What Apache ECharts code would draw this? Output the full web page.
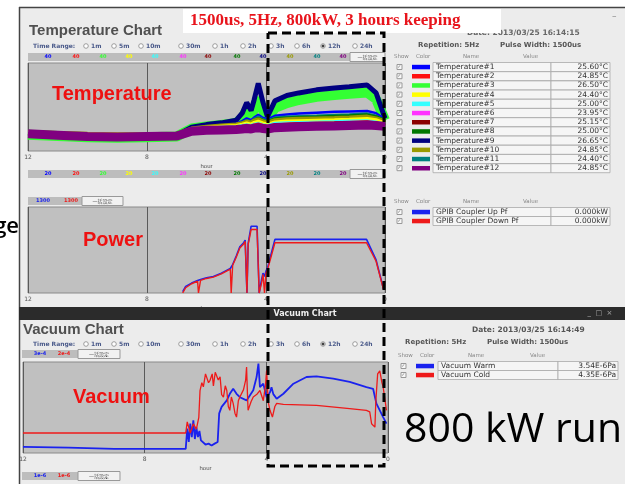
<!DOCTYPE html>
<html><head><meta charset="utf-8">
<script src="https://cdn.jsdelivr.net/npm/echarts/dist/echarts.min.js"></script>
<style>html,body{margin:0;padding:0;background:#fff}#c{width:625px;height:484px}</style>
</head><body><div id="c"></div>
<script>
// ---------------- DATA ----------------
const tHours = [12, 11, 10, 9, 8, 7, 6.5, 6, 5.5, 5, 4.8, 4.65, 4.5, 4.4, 4.26, 4.1, 3.95, 3.7, 3.3, 2.9, 2.3, 1.7, 1.2, 0.6, 0.3, 0];
const temp1  = [24.1, 23.8, 23.5, 23.4, 23.5, 23.7, 25.0, 25.5, 25.8, 26.2, 26.8, 27.4, 27.0, 27.6, 28.2, 27.5, 27.2, 28.0, 28.3, 28.5, 28.7, 28.9, 29.0, 29.1, 28.6, 27.2];
const temp2  = [24.0, 23.8, 23.5, 23.4, 23.5, 23.6, 24.7, 25.1, 25.3, 25.4, 25.7, 25.9, 25.7, 26.0, 26.2, 25.9, 25.7, 26.1, 26.2, 26.3, 26.4, 26.5, 26.6, 26.7, 26.5, 26.0];
const temp3  = [23.7, 23.4, 23.1, 23.0, 23.1, 23.3, 25.1, 25.6, 25.9, 26.4, 27.5, 29.3, 28.0, 29.6, 32.0, 29.2, 27.3, 29.8, 30.9, 31.6, 32.3, 32.7, 33.0, 33.3, 31.8, 27.0];
const temp4  = [24.3, 24.1, 23.9, 23.8, 23.8, 23.9, 25.0, 25.4, 25.6, 25.8, 26.1, 26.4, 26.1, 26.5, 26.8, 26.4, 26.1, 26.6, 26.8, 26.9, 27.0, 27.1, 27.2, 27.4, 27.1, 26.4];
const temp5  = [24.1, 23.8, 23.5, 23.4, 23.5, 23.6, 24.8, 25.2, 25.4, 25.5, 25.8, 26.0, 25.8, 26.1, 26.3, 26.0, 25.8, 26.3, 26.4, 26.5, 26.6, 26.7, 26.8, 26.9, 26.6, 26.1];
const temp6  = [23.8, 23.5, 23.2, 23.1, 23.2, 23.3, 24.4, 24.8, 25.0, 25.1, 25.2, 25.4, 25.2, 25.5, 25.7, 25.4, 25.3, 25.7, 25.8, 25.9, 26.0, 26.1, 26.2, 26.3, 26.1, 25.7];
const temp7  = [24.0, 23.7, 23.4, 23.3, 23.4, 23.5, 24.6, 25.0, 25.2, 25.3, 25.5, 25.7, 25.5, 25.8, 26.0, 25.7, 25.5, 26.0, 26.1, 26.2, 26.3, 26.4, 26.5, 26.6, 26.4, 25.9];
const temp8  = [24.0, 23.8, 23.6, 23.5, 23.5, 23.6, 24.9, 25.3, 25.6, 25.8, 26.2, 26.7, 26.4, 26.9, 27.3, 26.8, 26.5, 27.2, 27.4, 27.5, 27.6, 27.8, 27.9, 28.1, 27.7, 26.8];
const temp9  = [24.0, 23.7, 23.4, 23.3, 23.4, 23.6, 25.4, 26.0, 26.4, 27.0, 28.6, 31.0, 29.2, 31.6, 35.4, 31.0, 27.8, 31.4, 32.6, 33.2, 33.9, 34.3, 34.6, 35.0, 33.2, 27.4];
const temp10 = [24.2, 24.0, 23.8, 23.7, 23.7, 23.8, 25.0, 25.4, 25.7, 25.9, 26.2, 26.6, 26.3, 26.8, 27.1, 26.6, 26.3, 26.9, 27.1, 27.2, 27.3, 27.4, 27.5, 27.7, 27.3, 26.6];
const temp11 = [24.0, 23.8, 23.5, 23.4, 23.5, 23.6, 24.9, 25.4, 25.7, 26.0, 26.5, 27.0, 26.7, 27.3, 27.8, 27.2, 26.9, 27.6, 27.8, 27.9, 28.0, 28.2, 28.3, 28.5, 28.0, 27.0];
const temp12 = [23.9, 23.6, 23.3, 23.2, 23.3, 23.4, 24.5, 24.7, 24.8, 24.9, 25.0, 25.1, 25.0, 25.2, 25.3, 25.1, 25.0, 25.3, 25.4, 25.5, 25.6, 25.7, 25.8, 25.9, 25.8, 25.6];
const tempNames  = ['Temperature#1','Temperature#2','Temperature#3','Temperature#4','Temperature#5','Temperature#6','Temperature#7','Temperature#8','Temperature#9','Temperature#10','Temperature#11','Temperature#12'];
const tempValues = ['25.60°C','24.85°C','26.50°C','24.40°C','25.00°C','23.95°C','25.15°C','25.00°C','26.65°C','24.85°C','24.40°C','24.85°C'];

const pHours    = [6.8, 6.7, 6.5, 6.3, 6.27, 6.25, 6.2, 6.0, 5.77, 5.5, 5.2, 5.17, 5.15, 5.12, 5.0, 4.88, 4.75, 4.7, 4.66, 4.64, 4.6, 4.5, 4.48, 4.3, 4.26, 4.23, 4.21, 4.15, 4.1, 4.05, 4.0, 3.95, 3.9, 3.7, 3.6, 2.5, 1.5, 0.62, 0.3, 0.05];
const powerUp   = [20, 100, 150, 190, 195, 200, 205, 230, 250, 300, 370, 380, 400, 430, 560, 700, 760, 800, 810, 0, 750, 1010, 1010, 1010, 1010, 0, 0, 200, 300, 250, 330, 380, 400, 810, 810, 810, 810, 810, 500, 60];
const powerDown = [0, 80, 140, 180, 0, 0, 190, 220, 240, 290, 360, 0, 0, 420, 540, 680, 740, 780, 790, 0, 730, 960, 960, 960, 960, 0, 0, 150, 280, 0, 300, 350, 380, 760, 760, 760, 760, 760, 480, 50];
const powerNames  = ['GPIB Coupler Up Pf', 'GPIB Coupler Down Pf'];
const powerValues = ['0.000kW', '0.000kW'];

const vacWarm = [[12,1.46e-6],[10.5,1.4e-6],[9,1.3e-6],[7.5,1.3e-6],[6.65,1.3e-6],[6.6,4.6e-6],[6.55,2.0e-6],[6.5,6.3e-6],[6.45,2.7e-6],[6.4,7.8e-6],[6.35,2.4e-6],[6.3,5e-6],[6.25,2.7e-6],[6.2,4e-6],[6.15,2.2e-6],[6.1,2.0e-6],[6.0,1.7e-6],[5.9,1.8e-6],[5.8,1.6e-6],[5.7,1.8e-6],[5.6,2.0e-6],[5.55,1.2e-5],[5.47,1.8e-5],[5.3,2.7e-5],[5.2,4.1e-5],[5.09,5.6e-5],[4.98,4.1e-5],[4.87,3.3e-5],[4.65,2.7e-5],[4.43,5.1e-5],[4.32,1.17e-4],[4.26,2.7e-4],[4.21,6.2e-5],[4.10,7.7e-5],[3.99,3.3e-5],[3.88,4.5e-5],[3.83,6.2e-5],[3.77,4e-5],[3.66,3.0e-5],[3.44,4.1e-5],[3.11,7.7e-5],[2.68,1.17e-4],[2.35,1.22e-4],[1.80,1.06e-4],[1.26,8.6e-5],[0.71,6.2e-5],[0.49,5.6e-5],[0.38,2.2e-5],[0.16,9.5e-6],[0.05,6.3e-6]];
const vacCold = [[12,3.2e-6],[9,3.2e-6],[6.65,3.2e-6],[6.6,6.1e-6],[6.5,3.2e-6],[6.4,5.5e-6],[6.3,4e-6],[6.22,8e-6],[6.18,3.8e-5],[6.12,6e-5],[6.07,4.7e-5],[6.0,1.0e-4],[5.96,1.12e-4],[5.9,6e-5],[5.85,6.9e-5],[5.78,1.0e-4],[5.74,5e-5],[5.68,1.1e-4],[5.63,1.23e-4],[5.58,7e-5],[5.52,8.4e-5],[5.47,3e-5],[5.41,2.6e-5],[5.35,5e-5],[5.30,3.8e-5],[5.25,1.5e-5],[5.20,1.2e-5],[5.15,2.6e-5],[5.09,1.8e-5],[5.03,1.0e-5],[4.98,8.1e-6],[4.92,2.1e-5],[4.87,2.6e-5],[4.75,4e-5],[4.68,7e-5],[4.65,1.5e-4],[4.62,3e-5],[4.60,1.2e-5],[4.5,2e-5],[4.43,2.6e-5],[4.32,3e-5],[4.21,3.8e-5],[4.10,2.1e-5],[4.03,5e-5],[3.99,1.23e-4],[3.94,2e-5],[3.88,1.2e-5],[3.8,8.1e-6],[3.72,1.5e-5],[3.66,1.8e-5],[3.44,1.7e-5],[2.35,1.6e-5],[1.26,1.33e-5],[0.71,1.2e-5],[0.6,1.1e-5],[0.54,5.5e-6],[0.43,4.5e-6],[0.40,2.1e-5],[0.34,1.0e-4],[0.27,1.2e-4],[0.2,6e-5],[0.16,4.7e-5],[0.05,1.2e-5]];
const vacNames  = ['Vacuum Warm', 'Vacuum Cold'];
const vacValues = ['3.54E-6Pa', '4.35E-6Pa'];

const timeRanges = ['1m','5m','10m','30m','1h','2h','3h','6h','12h','24h'];
const tempTopLabels = ['40','40','40','40','40','40','40','40','40','40','40','40'];
const tempBotLabels = ['20','20','20','20','20','20','20','20','20','20','20','20'];

// ---------------- STYLE ----------------
const tempColors = ['#0000ff','#ff1010','#33ff33','#ffff00','#33ffff','#ff33ff','#8b0000','#007700','#000080','#9a9a00','#008080','#800080'];
const tempOrder  = [2, 8, 0, 10, 7, 9, 3, 4, 1, 6, 5, 11];
const tempWidth  = [2.5, 2.5, 10, 3, 3, 2.5, 2.5, 4, 5, 5, 2.5, 9];
const tempData = [temp1,temp2,temp3,temp4,temp5,temp6,temp7,temp8,temp9,temp10,temp11,temp12];
const BLUE = '#1a22ee', RED = '#ee1a1a';

const G = [];
function rect(x,y,w,h,fill,stroke,z,lw){G.push({type:'rect',z:z==null?-5:z,silent:true,shape:{x:x,y:y,width:w,height:h},style:{fill:fill,stroke:stroke||null,lineWidth:lw||1}});}
function txt(t,x,y,size,color,o){o=o||{};G.push({type:'text',z:o.z==null?50:o.z,silent:true,style:{text:t,x:x,y:y,fill:color,fontSize:size,fontFamily:o.family||'DejaVu Sans',fontWeight:o.weight||'normal',align:o.align||'left',verticalAlign:o.va||'middle'}});}
function ln(x1,y1,x2,y2,stroke,lw,dash,z){G.push({type:'line',z:z==null?-4:z,silent:true,shape:{x1:x1,y1:y1,x2:x2,y2:y2},style:{stroke:stroke,lineWidth:lw||1,lineDash:dash||null}});}
function circ(cx,cy,r,fill,stroke,z){G.push({type:'circle',z:z==null?40:z,silent:true,shape:{cx:cx,cy:cy,r:r},style:{fill:fill,stroke:stroke,lineWidth:0.8}});}

// windows
rect(19,7,606,300,'#ececec',null,-10);
ln(19,7.5,625,7.5,'#444',1.5,null,-3);
ln(19.5,7,19.5,484,'#444',1.5,null,-3);
txt('–',612,17,9,'#888');
rect(19,307,606,13,'#2b2b2b',null,60);
txt('Vacuum Chart',305,314,8,'#eeeeee',{weight:'bold',align:'center',z:61});
txt('_  □  ×',600,313,7,'#aaaaaa',{align:'center',z:61});
rect(19,320,606,164,'#ececec',null,-10);

// titles
txt('Temperature Chart',29,31,15,'#505050',{family:'Liberation Sans',weight:'bold'});
txt('Vacuum Chart',23,330,15,'#505050',{family:'Liberation Sans',weight:'bold'});
txt('Date: 2013/03/25 16:14:15',467,33,7.5,'#666',{weight:'bold'});
rect(183,9,318,24,'#ffffff',null,55);
txt('1500us, 5Hz, 800kW, 3 hours keeping',190,21,17,'#e8141c',{family:'Liberation Serif',weight:'bold',z:56});

// time range rows
const trX = [86,114,141,181,215,243,271,297,323,355];
function timeRow(y){
  txt('Time Range:',33,y,6,'#4a5a8a',{weight:'bold'});
  timeRanges.forEach(function(t,i){
    circ(trX[i],y,2.3,'#ffffff','#888');
    if(t==='12h') circ(trX[i],y,1.1,'#333','#333',41);
    txt(t,trX[i]+5,y,6,'#4a5a8a',{weight:'bold'});
  });
}
timeRow(46); timeRow(344);

// label strips
function strip(x,y,w,labels,colors,lx,btnX){
  rect(x,y,w,8,'#bdbdbd',null,-4);
  labels.forEach(function(l,i){txt(l,lx[i],y+4,5,colors[i],{weight:'bold',align:'center'});});
  rect(btnX,y-0.5,x+w-btnX,9,'#f2f2f2','#999',-3);
  txt('一括設定',(btnX+x+w)/2,y+4,5,'#555',{family:'Noto Sans CJK JP',align:'center'});
}
const stripX = [48,76,103,129,155,183,208,237,263,290,317,343];
strip(28,53,357,tempTopLabels,tempColors,stripX,350);
strip(28,170,357,tempBotLabels,tempColors,stripX,350);
strip(28,197,95,['1300','1300'],[BLUE,RED],[43,71],82);
strip(22,350,98,['3e-4','2e-4'],[BLUE,RED],[40,64],78);
strip(22,472,98,['1e-6','1e-6'],[BLUE,RED],[40,64],78);

// legend tables
function table(hy,x0,rows,names,values,colors,cellL,cellM,cellR){
  txt('Show',x0,hy,5.5,'#888'); txt('Color',x0+22,hy,5.5,'#888');
  txt('Name',cellL+30,hy,5.5,'#888'); txt('Value',cellM-28,hy,5.5,'#888');
  rows.forEach(function(yc,i){
    rect(x0+3,yc-2.5,5,5,'#f8f8f8','#999',-3);
    txt('✓',x0+5.5,yc,4.5,'#555',{align:'center'});
    rect(x0+18,yc-2.2,18,4.5,colors[i],null,-3);
    rect(cellL,yc-4.5,cellM-cellL,9,'#f5f5f5','#aaa',-3,0.8);
    rect(cellM,yc-4.5,cellR-cellM,9,'#f5f5f5','#aaa',-3,0.8);
    txt(names[i],cellL+3,yc,7.5,'#333');
    txt(values[i],cellR-2,yc,7.5,'#333',{align:'right'});
  });
}
txt('Repetition: 5Hz',418,45,7,'#555',{weight:'bold'});
txt('Pulse Width: 1500us',500,45,7,'#555',{weight:'bold'});
const tRows = tempNames.map(function(_,i){return 67+i*9.2;});
table(57,394,tRows,tempNames,tempValues,tempColors,433,551,610);
table(202,394,[212,221],powerNames,powerValues,[BLUE,RED],433,551,610);
txt('Date: 2013/03/25 16:14:49',472,330,7.5,'#555',{weight:'bold'});
txt('Repetition: 5Hz',405,342,7,'#555',{weight:'bold'});
txt('Pulse Width: 1500us',487,342,7,'#555',{weight:'bold'});
table(356,398,[366,375],vacNames,vacValues,[BLUE,RED],438,558,618);

// overlay annotations
txt('Temperature',52,94,20,'#ee1111',{family:'Liberation Sans',weight:'bold',z:70});
txt('Power',83,240,20,'#ee1111',{family:'Liberation Sans',weight:'bold',z:70});
txt('Vacuum',73,397,20,'#ee1111',{family:'Liberation Sans',weight:'bold',z:70});
txt('800 kW run',404,430,41,'#000',{family:'Open Sans',z:70});
txt('ge',19,227,22,'#000',{family:'Open Sans',weight:'600',align:'right',z:70});
G.push({type:'polyline',z:80,silent:true,shape:{points:[[268,33],[384,33],[384,466],[268,466],[268,33]]},style:{stroke:'#000',lineWidth:3,lineDash:[9,5],fill:null}});

// ---------------- CHART ----------------
function xAx(gi,showName){
  return {type:'value',gridIndex:gi,min:0,max:12,interval:4,inverse:true,
    axisLine:{show:false},axisTick:{show:false},
    axisLabel:{fontSize:6,color:'#555',margin:3,showMinLabel:true,showMaxLabel:true,fontFamily:'DejaVu Sans'},
    splitLine:{show:true,lineStyle:{color:'#5a5a5a',width:1}},
    name:showName?'hour':'',nameLocation:'middle',nameGap:12,nameTextStyle:{fontSize:6,color:'#555'}};
}
function yAx(gi,extra){
  return Object.assign({gridIndex:gi,axisLine:{show:false},axisTick:{show:false},axisLabel:{show:false},splitLine:{show:false}},extra);
}
const series = [];
tempOrder.forEach(function(i){
  series.push({type:'line',name:tempNames[i],xAxisIndex:0,yAxisIndex:0,showSymbol:false,animation:false,
    data:tHours.map(function(h,k){return [h,tempData[i][k]];}),
    lineStyle:{color:tempColors[i],width:tempWidth[i]},itemStyle:{color:tempColors[i]}});
});
series.push({type:'line',name:powerNames[0],xAxisIndex:1,yAxisIndex:1,showSymbol:false,animation:false,
  data:pHours.map(function(h,k){return [h,powerUp[k]];}),lineStyle:{color:BLUE,width:1.6}});
series.push({type:'line',name:powerNames[1],xAxisIndex:1,yAxisIndex:1,showSymbol:false,animation:false,
  data:pHours.map(function(h,k){return [h,powerDown[k]];}),lineStyle:{color:RED,width:1.4}});
series.push({type:'line',name:vacNames[0],xAxisIndex:2,yAxisIndex:2,showSymbol:false,animation:false,
  data:vacWarm,lineStyle:{color:BLUE,width:1.8}});
series.push({type:'line',name:vacNames[1],xAxisIndex:2,yAxisIndex:3,showSymbol:false,animation:false,
  data:vacCold,lineStyle:{color:RED,width:1.3}});

const chart = echarts.init(document.getElementById('c'),null,{renderer:'canvas'});
chart.setOption({
  backgroundColor:'#ffffff',
  animation:false,
  grid:[
    {left:28,top:63,width:357,height:88,show:true,backgroundColor:'#c0c0c0',borderColor:'#8a8a8a',borderWidth:1},
    {left:28,top:207,width:357,height:86,show:true,backgroundColor:'#c0c0c0',borderColor:'#8a8a8a',borderWidth:1},
    {left:23,top:362,width:365,height:91,show:true,backgroundColor:'#c0c0c0',borderColor:'#8a8a8a',borderWidth:1}
  ],
  xAxis:[xAx(0,true),xAx(1,true),xAx(2,true)],
  yAxis:[
    yAx(0,{type:'value',min:20,max:40}),
    yAx(1,{type:'value',min:0,max:1300}),
    yAx(2,{type:'log',logBase:10,min:1e-6,max:3e-4}),
    yAx(2,{type:'log',logBase:10,min:1e-6,max:2e-4})
  ],
  series:series,
  graphic:{elements:G}
});
</script></body></html>
